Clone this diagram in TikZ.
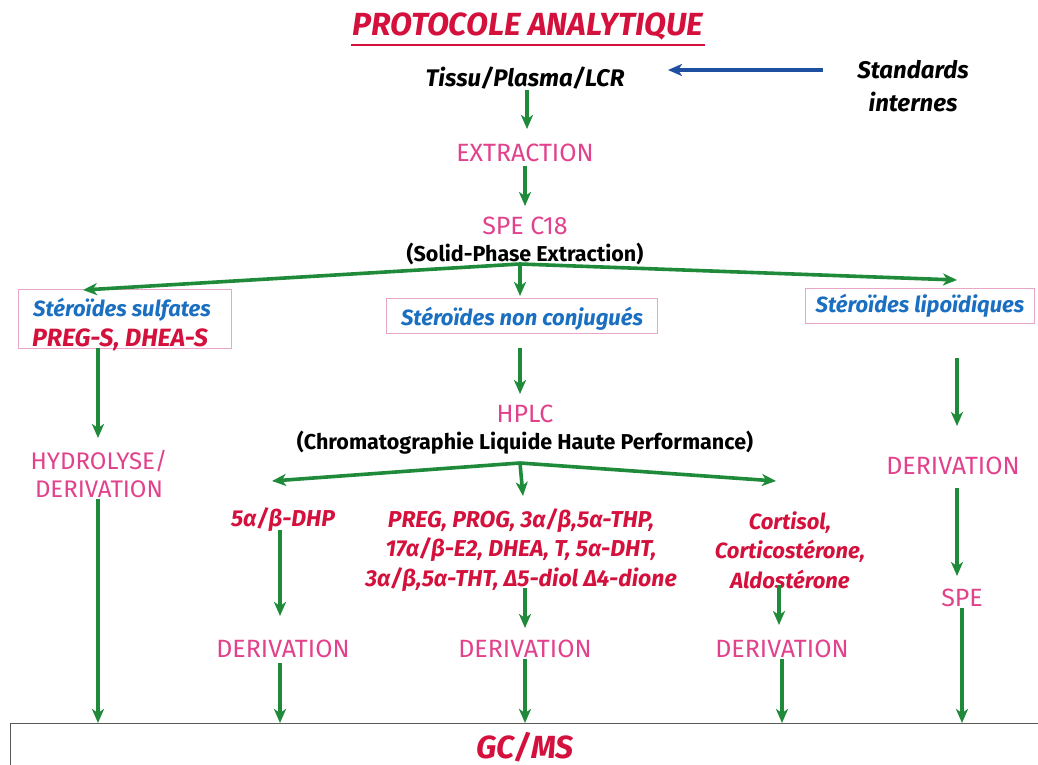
\documentclass[tikz,border=0pt]{standalone}
\usepackage{fontspec}
\setmainfont{Fira Sans}
\usetikzlibrary{arrows.meta}
\definecolor{tred}{HTML}{D4103C}
\definecolor{tpink}{HTML}{E2418C}
\definecolor{tblue}{HTML}{1A6FC0}
\definecolor{tgreen}{HTML}{1E8A3A}
\definecolor{ablue}{HTML}{1F4FA0}
\definecolor{boxpink}{HTML}{E8A6C8}
\begin{document}
\begin{tikzpicture}[x=1pt,y=-1pt,
  garrow/.style={draw=tgreen, line width=3.6pt, -{Stealth[length=14pt,width=12pt,inset=4pt]}},
  barrow/.style={draw=ablue, line width=3.8pt, -{Stealth[length=14pt,width=12pt,inset=4pt]}},
  pinklbl/.style={text=tpink, font=\fontsize{25}{28}\selectfont, inner sep=1pt},
  blk/.style={text=black, font=\bfseries\fontsize{21.5}{24}\selectfont, inner sep=1pt},
  bik/.style={text=black, font=\bfseries\itshape\fontsize{24}{33}\selectfont, inner sep=1pt, align=center},
  blu/.style={text=tblue, font=\bfseries\itshape\fontsize{22}{24}\selectfont, inner sep=1pt},
  rd/.style={text=tred, font=\bfseries\itshape\fontsize{23}{29.5}\selectfont, inner sep=1pt, align=center},
  pbox/.style={draw=boxpink, line width=0.9pt}
]
\useasboundingbox (0,0) rectangle (1038,765);
\clip (0,0) rectangle (1038,765);
\fill[white] (0,0) rectangle (1038,765);

% title
\node[text=tred, font=\bfseries\itshape\fontsize{32}{36}\selectfont, inner sep=1pt] (title) at (528,27) {PROTOCOLE ANALYTIQUE};
\draw[tred, line width=2.2pt] (title.south west) ++(0,3) coordinate (ul1) -- (ul1 -| title.south east);

\node[bik] (tissu) at (525,78) {Tissu/Plasma/LCR};
\node[bik] (std) at (913,86) {Standards\\internes};
\coordinate (stdl) at (823,70);
\coordinate (stdr) at (668,70);
\draw[barrow] (stdl) -- (stdr);

\node[pinklbl] (extr) at (525,153) {EXTRACTION};
\node[pinklbl] (spe) at (525,226) {SPE C18};
\node[blk] (spe2) at (525,254) {(Solid-Phase Extraction)};

\draw[garrow] (527,90) coordinate (t0) -- (527,129) coordinate (t1);
\draw[garrow] (525,166) coordinate (t2) -- (525,206) coordinate (t3);

% boxes
\draw[pbox] (18,289) rectangle (231,348);
\node[blu] (sulf) at (122,310) {Stéroïdes sulfates};
\node[rd, font=\bfseries\itshape\fontsize{25}{29.5}\selectfont] (sulf2) at (120,340) {PREG-S, DHEA-S};
\node[pbox, minimum width=271pt, minimum height=35pt] (nonc) at (522,316) {};
\node[blu] at (522,319) {Stéroïdes non conjugués};
\node[pbox, minimum width=229pt, minimum height=35pt] (lip) at (920,306) {};
\node[blu] at (lip) {Stéroïdes lipoïdiques};

\coordinate (b1) at (520,264);
\coordinate (e1) at (83,290);
\coordinate (e2) at (957,280);
\coordinate (e3) at (520,296);
\draw[garrow] (b1) -- (e1);
\draw[garrow] (b1) -- (e2);
\draw[garrow] (b1) -- (e3);

% left column
\node[pinklbl, align=center, font=\fontsize{24}{28}\selectfont] (hyd) at (99,474) {HYDROLYSE/\\DERIVATION};
\draw[garrow] (98,348) coordinate (l0) -- (98,438) coordinate (l1);

% middle
\draw[garrow] (520,348) coordinate (m0) -- (520,394) coordinate (m1);
\node[pinklbl] (hplc) at (525,414) {HPLC};
\node[blk] (hplc2) at (525,443) {(Chromatographie Liquide Haute Performance)};
\coordinate (b2) at (520,463);
\coordinate (f1) at (272,481);
\coordinate (f2) at (776,481);
\coordinate (f3) at (523,496);
\draw[garrow] (b2) -- (f1);
\draw[garrow] (b2) -- (f2);
\draw[garrow] (b2) -- (f3);

\node[rd] (dhp) at (283,520) {5α/β-DHP};
\node[rd] (mid) at (521,550) {PREG, PROG, 3α/β,5α-THP,\\17α/β-E2, DHEA, T, 5α-DHT,\\3α/β,5α-THT, Δ5-diol Δ4-dione};
\node[rd, font=\bfseries\itshape\fontsize{22}{29.5}\selectfont] (cort) at (790,550) {Cortisol,\\Corticostérone,\\Aldostérone};

\node[pinklbl] (d1) at (283,649) {DERIVATION};
\node[pinklbl] (d2) at (525,649) {DERIVATION};
\node[pinklbl] (d3) at (782,649) {DERIVATION};

\draw[garrow] (280,530) coordinate (a0) -- (280,616) coordinate (a1);
\draw[garrow] (525,588) coordinate (a2) -- (525,628) coordinate (a3);
\draw[garrow] (779,585) coordinate (a4) -- (779,625) coordinate (a5);

% right column
\draw[garrow] (957,358) coordinate (r0) -- (957,426) coordinate (r1);
\node[pinklbl] (d4) at (953,466) {DERIVATION};
\draw[garrow] (957,488) coordinate (r2) -- (957,576) coordinate (r3);
\node[pinklbl] (spe3) at (962,598) {SPE};

% GC/MS
\node[draw=gray!70!black, line width=1pt, minimum width=1030pt, minimum height=60pt, anchor=north west] (gc) at (10,723) {};
\node[text=tred, font=\bfseries\itshape\fontsize{32}{36}\selectfont, inner sep=0pt, anchor=base] (gct) at (525,758) {GC/MS};

\draw[garrow] (hyd.south -| l0) -- (l0 |- gc.north);
\draw[garrow] (d1.south -| a0) ++(0,4) -- (a0 |- gc.north);
\draw[garrow] (d2.south) -- (d2.south |- gc.north);
\draw[garrow] (d3.south) -- (d3.south |- gc.north);
\draw[garrow] (spe3.south) -- (spe3.south |- gc.north);
\end{tikzpicture}
\end{document}
